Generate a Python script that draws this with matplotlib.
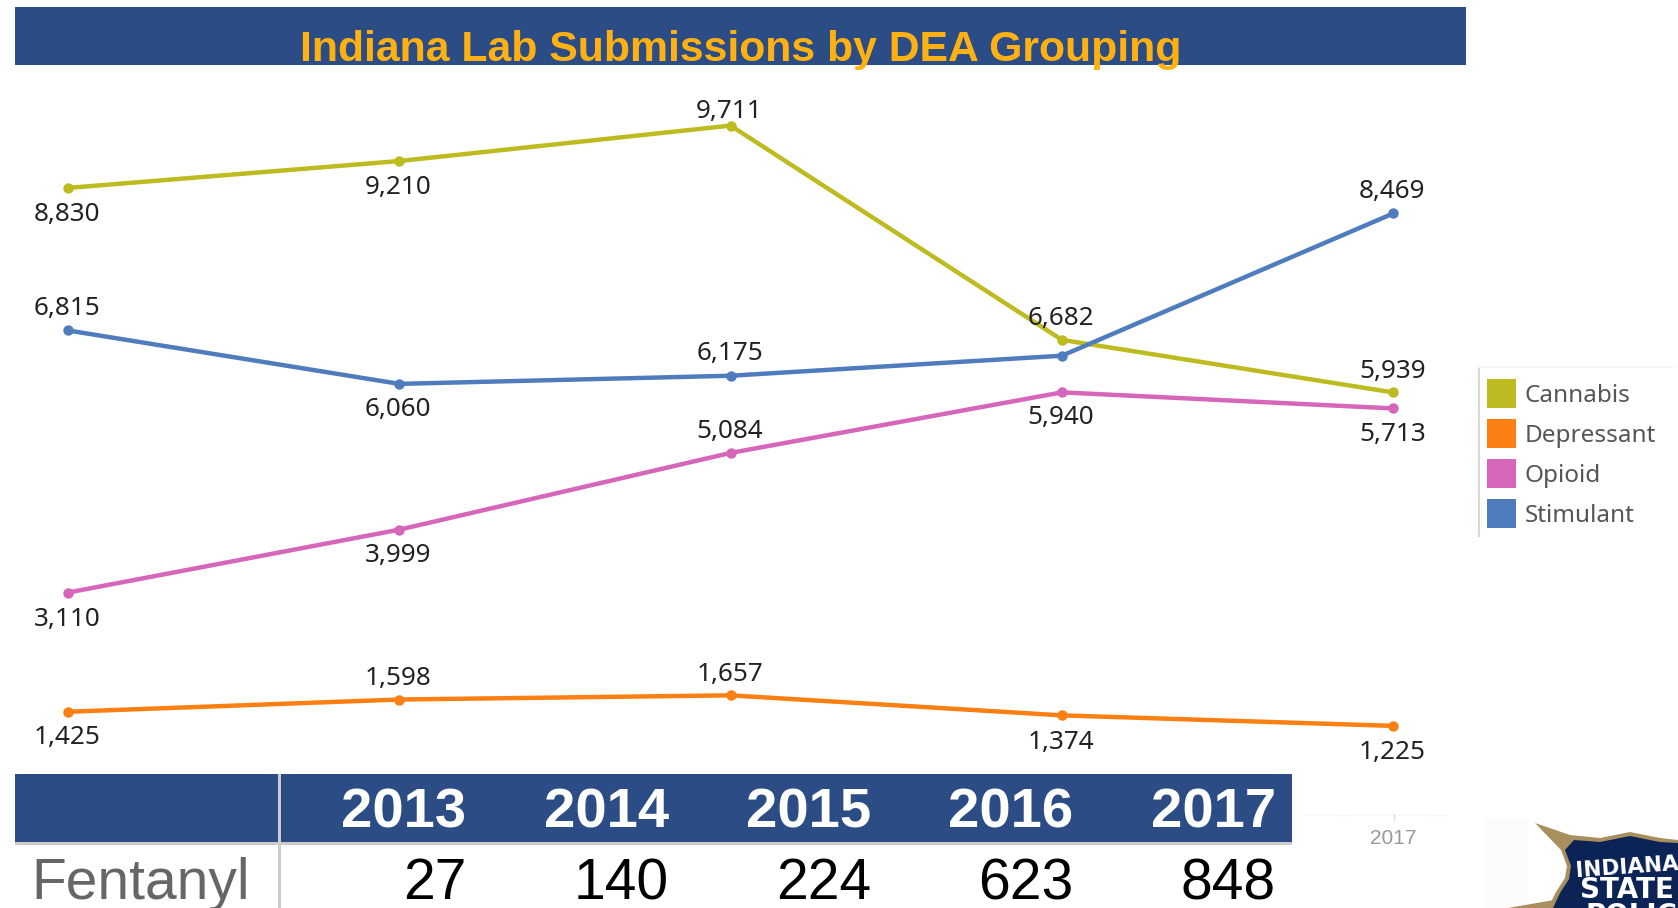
# Indiana lab submissions line chart with year table underneath
import matplotlib
matplotlib.use('Agg')
import matplotlib.pyplot as plt
from matplotlib.patches import Rectangle, Polygon

plt.rcParams.update({'font.family': ['Liberation Sans', 'DejaVu Sans']})

# data
years = [2013, 2014, 2015, 2016, 2017]
cannabis = [8830, 9210, 9711, 6682, 5939]
depressant = [1425, 1598, 1657, 1374, 1225]
opioid = [3110, 3999, 5084, 5940, 5713]
stimulant = [6815, 6060, 6175, 6458, 8469]
fentanyl = [27, 140, 224, 623, 848]
legend_names = ['Cannabis', 'Depressant', 'Opioid', 'Stimulant']
title = 'Indiana Lab Submissions by DEA Grouping'

# colours
navy = '#2B4C84'
colors = ['#BDBB1F', '#FB7F13', '#D566B9', '#4E7CBC']

W, H = 1678, 908
fig = plt.figure(figsize=(W / 100, H / 100), dpi=100, facecolor='white')

# overlay in pixel coordinates for the table, banner and legend
over = fig.add_axes([0, 0, 1, 1], zorder=1)
over.set_xlim(0, W)
over.set_ylim(H, 0)
over.axis('off')

# main axes fill the figure, limits chosen so years and values land in the right place
ax = fig.add_axes([0, 0, 1, 1], zorder=2)
ax.patch.set_alpha(0)
ax.axis('off')
px_year = 331.3
px_val = 0.07074
ax.set_xlim(2013 - 68.0 / px_year, 2017 + (W - 1393.2) / px_year)
ax.set_ylim(9711 - (H - 125.6) / px_val, 9711 + 125.6 / px_val)

series = [cannabis, depressant, opioid, stimulant]
# label offsets in pixels, + is up; None = no label in the original
offsets = [
    [-27, -26, 14, 21, 21],
    [-26, 21, 21, -27, -27],
    [-27, -26, 21, -25, -26],
    [22, -26, 22, None, 22],
]
for vals, col, offs in zip(series, colors, offsets):
    ax.plot(years, vals, color=col, lw=3.2, marker='o', ms=7.5, mew=0,
            solid_joinstyle='round')
    for yr, v, o in zip(years, vals, offs):
        if o is None:
            continue
        ax.annotate('{:,}'.format(v), (yr, v), xytext=(-1, o), textcoords='offset pixels',
                    ha='center', va='center', fontsize=18.8, color='#222222',
                    family=['Noto Sans', 'DejaVu Sans'])

# title banner
over.add_patch(Rectangle((15, 7), 1451, 58, fc=navy, ec='none'))
over.text(741, 61, title, color='#FFB111', fontsize=30.8, fontweight='bold',
          ha='center', va='baseline')

# table
over.add_patch(Rectangle((15, 774), 1277, 68, fc=navy, ec='none'))
over.add_patch(Rectangle((15, 842), 1277, 3, fc='#CCCCCC', ec='none'))
over.add_patch(Rectangle((278, 774), 3, 134, fc='#CCCCCC', ec='none'))
col_right = [466, 669, 871, 1073, 1276]
for x, yr, n in zip(col_right, years, fentanyl):
    over.text(x, 827, str(yr), color='white', fontsize=40.5, fontweight='bold',
              ha='right', va='baseline')
    over.text(x, 899, str(n), color='black', fontsize=41, ha='right', va='baseline')
over.text(31, 899, 'Fentanyl', color='#666666', fontsize=41, ha='left', va='baseline')

# legend
over.plot([1479, 1479], [367, 536], color='#D8D8D8', lw=1.5)
over.plot([1479, 1672], [367, 367], color='#F5F5F5', lw=1.5)
for i, (name, col) in enumerate(zip(legend_names, colors)):
    y = 379 + 40 * i
    over.add_patch(Rectangle((1487, y), 29, 29, fc=col, ec='none'))
    over.text(1525, y + 17, name, color='#555555', fontsize=17.5, ha='left', va='center',
              family=['Noto Sans', 'DejaVu Sans'])

# faint x axis stub
over.plot([1306, 1450], [815, 815], color='#EEEEEE', lw=1, ls=':')
over.plot([1394, 1394], [814, 820], color='#DDDDDD', lw=1)
over.text(1393, 838, '2017', color='#999999', fontsize=15, ha='center', va='center')

# logo corner, cut off by the edge of the picture
over.add_patch(Rectangle((1484, 818), 43, 90, fc='#FBFBFB', ec='none'))
over.add_patch(Polygon([(1535, 823), (1570, 835), (1600, 838), (1630, 832), (1660, 838),
                        (1678, 840), (1678, 908), (1548, 908), (1556, 892), (1565, 878),
                        (1567, 866), (1561, 850)], fc='#A98F5E', ec='none'))
over.add_patch(Polygon([(1508, 908), (1554, 900), (1548, 908)], fc='#A98F5E', ec='none'))
over.add_patch(Polygon([(1565, 850), (1574, 840), (1600, 842), (1630, 836), (1660, 842),
                        (1678, 843), (1678, 908), (1553, 908), (1560, 893), (1569, 879),
                        (1571, 866)], fc='#0B2455', ec='none'))
logo_font = ['DejaVu Sans']
over.text(1576, 877, 'INDIANA', color='white', fontsize=15.5, fontweight='bold', ha='left',
          va='baseline', rotation=4, rotation_mode='anchor', family=logo_font)
over.text(1580, 898, 'STATE', color='white', fontsize=20, fontweight='bold', ha='left',
          va='baseline', family=logo_font)
over.text(1585, 924, 'POLICE', color='white', fontsize=20, fontweight='bold', ha='left',
          va='baseline', family=logo_font, clip_on=True)

plt.savefig('out.png', dpi=100)
